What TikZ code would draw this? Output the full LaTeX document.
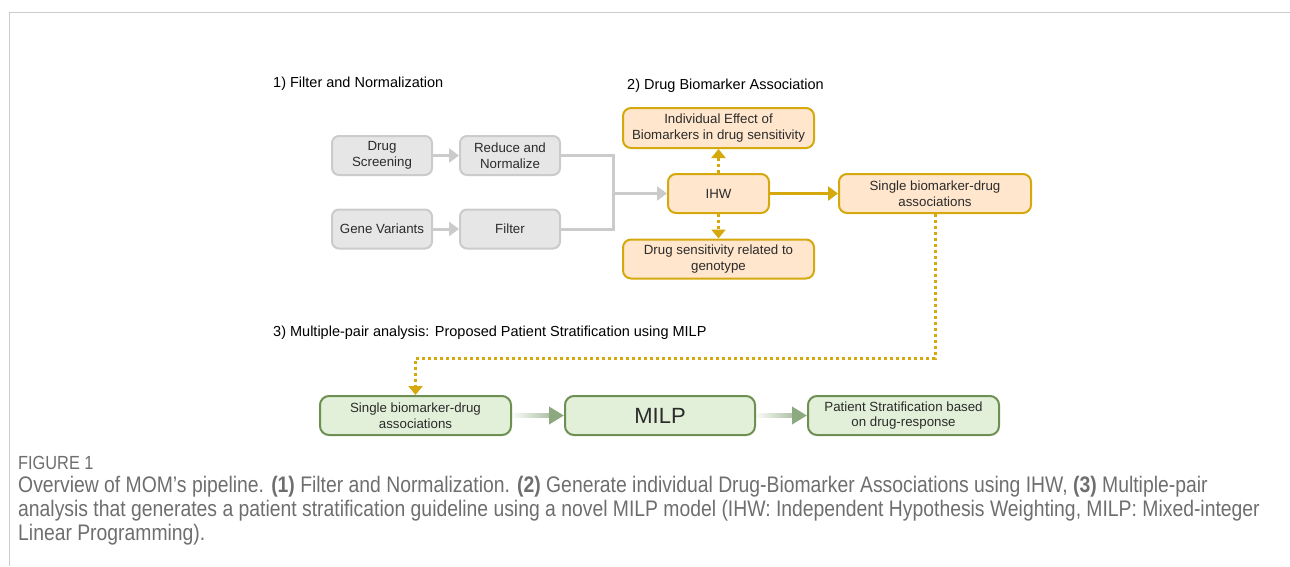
\documentclass[tikz,border=0pt]{standalone}
\usepackage{fontspec}
\setmainfont{Liberation Sans}
\newfontfamily\capfont[FakeStretch=0.86]{Liberation Sans}
\usetikzlibrary{arrows.meta,fadings}
\definecolor{grayfill}{HTML}{E6E6E6}
\definecolor{grayline}{HTML}{CBCBCB}
\definecolor{orfill}{HTML}{FFE6CC}
\definecolor{orline}{HTML}{D5A80E}
\definecolor{grfill}{HTML}{E2F0D9}
\definecolor{grline}{HTML}{6E8F52}
\definecolor{grarrow}{HTML}{8DA97F}
\definecolor{captext}{HTML}{6E6E6E}
\definecolor{boxtext}{HTML}{2B2B2B}

\begin{document}
\begin{tikzpicture}[x=1pt,y=-1pt,
  every node/.style={font=\fontsize{13.3}{15.5}\selectfont, text=boxtext, align=center},
  graybox/.style={draw=grayline, fill=grayfill, line width=2pt, rounded corners=7pt,
    minimum width=100pt, minimum height=39pt},
  orbox/.style={draw=orline, fill=orfill, line width=2pt, rounded corners=8pt,
    minimum height=39pt},
  grbox/.style={draw=grline, fill=grfill, line width=2pt, rounded corners=9pt,
    minimum width=191pt, minimum height=39pt},
  grayarrow/.style={draw=grayline, line width=3pt, -{Triangle[length=10pt,width=14pt]}},
  goldarrow/.style={draw=orline, line width=3pt, -{Triangle[length=10pt,width=14pt]}},
  dotarrow/.style={draw=orline, line width=3pt, dash pattern=on 3pt off 3pt,
    -{Triangle[length=9pt,width=14pt]}},
  fadeline/.style={draw=grarrow, line width=4.5pt, path fading=west, shorten >=14pt},
  greenhead/.style={draw=grarrow, line width=4.5pt, shorten <=38pt,
    -{Triangle[length=15pt,width=17pt]}},
  steplabel/.style={anchor=west, inner sep=0pt, font=\fontsize{14.5}{17}\selectfont, text=black},
  capline/.style={anchor=west, inner sep=0pt, text=captext, font=\capfont\fontsize{22.5}{24}\selectfont}]
\useasboundingbox (0,0) rectangle (1290,566);
\draw[grayline, line width=1pt] (9,566) -- (9,12) -- (1290,12);

% 1) filter and normalization
\node[steplabel] (lab1) at (273,84) {1) Filter and Normalization};
\node[graybox] (ds) at (382,155.5) {Drug\\Screening};
\node[graybox] (rn) at (510,155.5) {Reduce and\\Normalize};
\node[graybox] (gv) at (382,229) {Gene Variants};
\node[graybox] (fl) at (510,229) {Filter};
\draw[grayarrow] (ds) -- (rn);
\draw[grayarrow] (gv) -- (fl);

% 2) drug biomarker association
\node[steplabel] (lab2) at (627,86) {2) Drug Biomarker Association};
\node[orbox, minimum width=101pt] (ihw) at (718.5,193.5) {IHW};
\node[orbox, minimum width=191pt, minimum height=40pt] (ind) at (718.5,128)
  {Individual Effect of\\Biomarkers in drug sensitivity};
\node[orbox, minimum width=191pt] (sens) at (718.5,259)
  {Drug sensitivity related to\\genotype};
\node[orbox, minimum width=192pt] (sbd) at (935,193.5)
  {Single biomarker-drug\\associations};
\coordinate (join) at (613,193.5);
\draw[grayline, line width=3pt] (rn.east) -| (join);
\draw[grayline, line width=3pt] (fl.east) -| (join);
\draw[grayarrow] (join) -- (ihw.west);
\draw[dotarrow] (ihw) -- (ind);
\draw[dotarrow] (ihw) -- (sens);
\draw[goldarrow] (ihw) -- (sbd);

% 3) multiple-pair analysis
\node[steplabel] (lab3) at (273,333) {3) Multiple-pair analysis: Proposed Patient Stratification using MILP};
\node[grbox] (gs) at (415.5,415.5) {Single biomarker-drug\\associations};
\node[grbox, minimum width=190pt, font=\fontsize{22}{26}\selectfont] (milp) at (660,415.5) {MILP};
\node[grbox] (ps) at (903.5,415.5) {Patient Stratification based\\on drug-response};
\coordinate (turn) at (935,358);
\draw[dotarrow] (sbd.south) -- (turn) -| (gs.north);
\draw[fadeline] (gs) -- (milp);
\draw[greenhead] (gs) -- (milp);
\draw[fadeline] (milp) -- (ps);
\draw[greenhead] (milp) -- (ps);

% caption
\node[capline, font=\capfont\fontsize{19}{20}\selectfont] (fig) at (18,463) {FIGURE 1};
\node[capline] (cap1) at (18,487) {Overview of MOM’s pipeline. \textbf{(1)} Filter and Normalization. \textbf{(2)} Generate individual Drug-Biomarker Associations using IHW, \textbf{(3)} Multiple-pair};
\node[capline] (cap2) at (18,511) {analysis that generates a patient stratification guideline using a novel MILP model (IHW: Independent Hypothesis Weighting, MILP: Mixed-integer};
\node[capline] (cap3) at (18,535) {Linear Programming).};
\end{tikzpicture}
\end{document}
